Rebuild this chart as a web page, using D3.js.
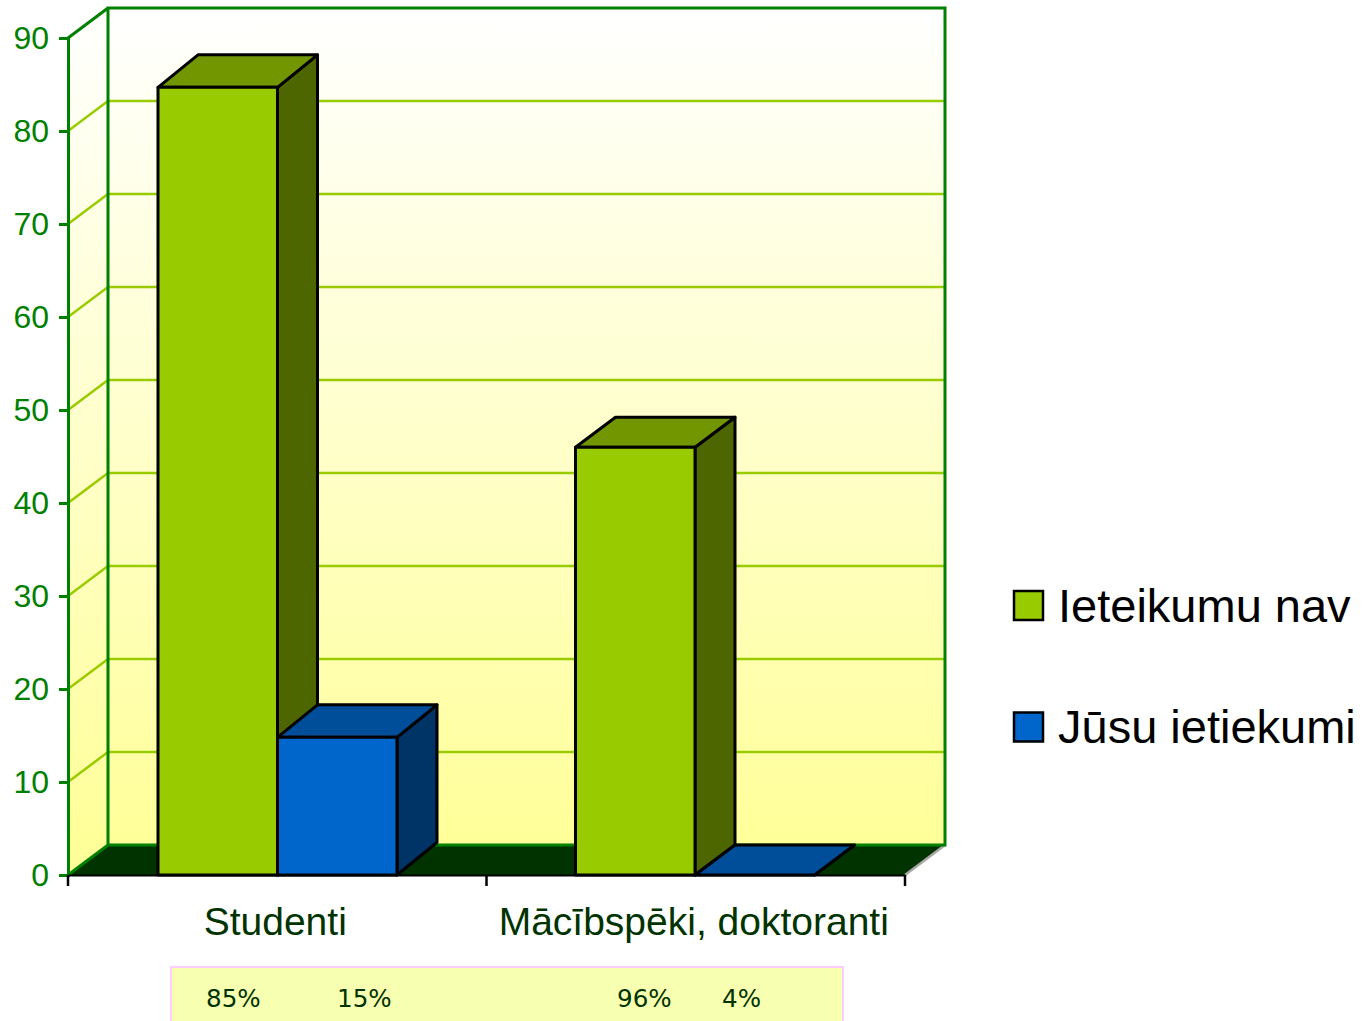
<!DOCTYPE html>
<html>
<head>
<meta charset="utf-8">
<script src="https://d3js.org/d3.v7.min.js"></script>
<style>
  body { margin: 0; background: #fff; }
  svg { display: block; }
  text { font-family: "Liberation Sans", sans-serif; }
</style>
</head>
<body>
<svg id="Vis" width="1365" height="1021"></svg>
<script>
/* DATA */
const categories = ["Studenti", "Mācībspēki, doktoranti"];
const seriesNames = ["Ieteikumu nav", "Jūsu ietiekumi"];
const ieteikumuNav = [84.7, 46];
const jusuIetiekumi = [14.8, 0];
const yTicks = [0, 10, 20, 30, 40, 50, 60, 70, 80, 90];
const percentLabels = ["85%", "15%", "96%", "4%"];

const faceColors = [
  { front: "#99cc00", top: "#729600", side: "#4d6600" },
  { front: "#0066cc", top: "#004d99", side: "#003366" }
];

const left = 68, right = 905, floorY = 875, topY = 38;
const wallDx = 40, wallDy = 30;
const barDy = [32.5, 30];

const svg = d3.select("svg#Vis");

/* SCALES */
const y = d3.scaleLinear().domain([0, 90]).range([floorY, topY]);
const xAxisScale = d3.scaleBand().domain(categories).range([left, right]);
const xGroup = d3.scaleBand().domain(categories).range([left - 1, right - 3]);
const xBar = d3.scaleBand().domain(seriesNames).range([91, 330]);

/* WALLS */
const gradient = svg.append("defs").append("linearGradient")
  .attr("id", "wall")
  .attr("gradientUnits", "userSpaceOnUse")
  .attr("x1", 0).attr("x2", 0)
  .attr("y1", topY - wallDy).attr("y2", floorY - wallDy);
gradient.append("stop").attr("offset", "0%").attr("stop-color", "#ffffff");
gradient.append("stop").attr("offset", "100%").attr("stop-color", "#ffff99");

function poly(points) {
  return "M" + points.map(p => p.join(",")).join("L") + "Z";
}

const walls = svg.append("g").attr("id", "walls");
walls.append("path")
  .attr("d", poly([[left, topY], [left + wallDx, topY - wallDy], [left + wallDx, floorY - wallDy], [left, floorY]]))
  .attr("fill", "url(#wall)");
walls.append("rect")
  .attr("x", left + wallDx).attr("y", topY - wallDy)
  .attr("width", right - left).attr("height", floorY - topY)
  .attr("fill", "url(#wall)");
walls.append("path")
  .attr("d", poly([[left, floorY], [left + wallDx, floorY - wallDy], [right + wallDx, floorY - wallDy], [right, floorY]]))
  .attr("fill", "#003300");
walls.append("line")
  .attr("x1", right).attr("y1", floorY)
  .attr("x2", right + wallDx).attr("y2", floorY - wallDy)
  .attr("stroke", "#a6a6a6").attr("stroke-width", 2.5);

/* GRID */
const grid = svg.append("g").attr("id", "grid")
  .attr("fill", "none").attr("stroke", "#99cc00").attr("stroke-width", 2.5);
grid.selectAll("path")
  .data(yTicks.slice(1, -1))
  .enter()
  .append("path")
  .attr("d", d => "M" + left + "," + y(d) + "L" + (left + wallDx) + "," + (y(d) - wallDy) + "H" + (right + wallDx));

/* frame of the walls */
svg.append("path")
  .attr("d", "M" + left + "," + floorY + "L" + (left + wallDx) + "," + (floorY - wallDy)
    + "H" + (right + wallDx) + "V" + (topY - wallDy) + "H" + (left + wallDx) + "V" + (floorY - wallDy)
    + "M" + left + "," + topY + "L" + (left + wallDx) + "," + (topY - wallDy))
  .attr("fill", "none").attr("stroke", "#008000").attr("stroke-width", 3);

/* BARS */
const bars = svg.append("g").attr("id", "bars")
  .attr("stroke", "#000").attr("stroke-width", 3).attr("stroke-linejoin", "round");

[ieteikumuNav, jusuIetiekumi].forEach((values, s) => {
  const colors = faceColors[s];
  const group = bars.append("g").attr("class", "series");
  const rows = categories.map((c, i) => ({
    x0: xGroup(c) + xBar(seriesNames[s]),
    x1: xGroup(c) + xBar(seriesNames[s]) + xBar.bandwidth(),
    top: y(values[i]),
    dy: barDy[i]
  }));

  group.selectAll("path.side")
    .data(rows).enter().append("path").attr("class", "side")
    .attr("fill", colors.side)
    .attr("d", d => poly([[d.x1, d.top], [d.x1 + wallDx, d.top - d.dy], [d.x1 + wallDx, floorY - d.dy], [d.x1, floorY]]));

  group.selectAll("path.top")
    .data(rows).enter().append("path").attr("class", "top")
    .attr("fill", colors.top)
    .attr("d", d => poly([[d.x0, d.top], [d.x0 + wallDx, d.top - d.dy], [d.x1 + wallDx, d.top - d.dy], [d.x1, d.top]]));

  group.selectAll("rect")
    .data(rows).enter().append("rect")
    .attr("fill", colors.front)
    .attr("x", d => d.x0).attr("y", d => d.top)
    .attr("width", d => d.x1 - d.x0).attr("height", d => floorY - d.top);
});

/* AXES */
const yAxis = d3.axisLeft(y).tickValues(yTicks).tickSize(9).tickPadding(10);
const yAxisGroup = svg.append("g").attr("id", "y-axis")
  .attr("transform", "translate(" + left + ",0)")
  .call(yAxis);
yAxisGroup.select(".domain").attr("stroke", "#008000").attr("stroke-width", 3);
yAxisGroup.selectAll(".tick line").attr("stroke", "#008000").attr("stroke-width", 3);
yAxisGroup.selectAll(".tick text")
  .attr("fill", "#008000").attr("font-size", 32).attr("font-family", "Liberation Sans");

const xAxis = d3.axisBottom(xAxisScale).tickSize(0).tickPadding(32);
const xAxisGroup = svg.append("g").attr("id", "x-axis")
  .attr("transform", "translate(0," + floorY + ")")
  .call(xAxis);
xAxisGroup.select(".domain").attr("stroke", "#000").attr("stroke-width", 2);
xAxisGroup.selectAll(".tick text")
  .attr("fill", "#003300").attr("font-size", 39).attr("font-family", "Liberation Sans")
  .attr("dx", -2);
xAxisGroup.selectAll("line.edge")
  .data([...categories.map(c => xAxisScale(c)), right])
  .enter().append("line").attr("class", "edge")
  .attr("x1", d => d).attr("x2", d => d)
  .attr("y1", 0).attr("y2", 11)
  .attr("stroke", "#000").attr("stroke-width", 2.5);

/* LEGEND */
const legend = svg.append("g").attr("id", "legend");
const legendRow = legend.selectAll("g")
  .data(seriesNames).enter().append("g")
  .attr("transform", (d, i) => "translate(1014," + (591 + i * 121.5) + ")");
legendRow.append("rect")
  .attr("width", 29).attr("height", 29)
  .attr("fill", (d, i) => faceColors[i].front)
  .attr("stroke", "#000").attr("stroke-width", 2.5);
legendRow.append("text")
  .attr("x", 44).attr("y", 30.5)
  .attr("font-size", 47).attr("fill", "#000")
  .text(d => d);

/* NOTE BOX */
const noteX = [206, 337, 617, 722];
const note = svg.append("g").attr("id", "note");
note.append("rect")
  .attr("x", 171).attr("y", 967).attr("width", 672).attr("height", 70)
  .attr("fill", "#f7ffb0").attr("stroke", "#ffccff").attr("stroke-width", 2);
note.selectAll("text")
  .data(percentLabels).enter().append("text")
  .attr("x", (d, i) => noteX[i]).attr("y", 1007)
  .attr("fill", "#003300").attr("font-size", 24.6)
  .style("font-family", "'DejaVu Sans'")
  .text(d => d);
</script>
</body>
</html>
